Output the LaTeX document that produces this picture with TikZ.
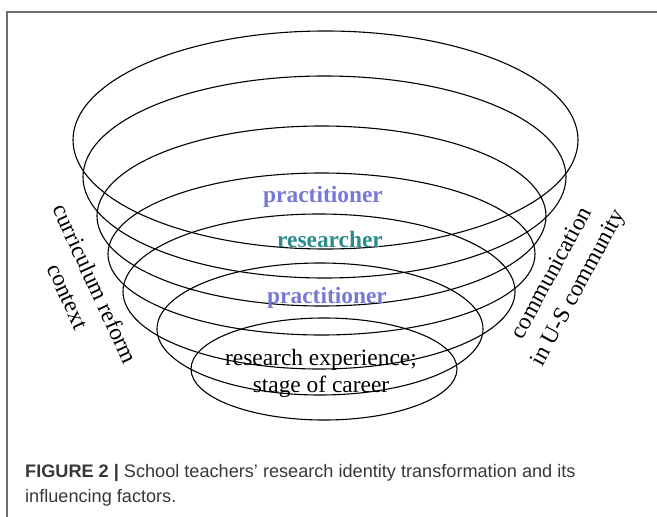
\documentclass[tikz,border=0pt]{standalone}
\usepackage{fontspec}
\setmainfont{Liberation Serif}
\newfontfamily\capfont{Liberation Sans}

\definecolor{practcol}{RGB}{120,120,214}
\definecolor{rescol}{RGB}{45,140,140}
\definecolor{capgray}{RGB}{55,55,55}
\definecolor{framegray}{RGB}{110,110,110}

\begin{document}
\begin{tikzpicture}[x=1bp,y=-1bp,
    ring/.style={draw,line width=1.1bp},
    role/.style={font=\fontsize{23.5}{28}\selectfont\bfseries,inner sep=0pt,anchor=base},
    factor/.style={font=\fontsize{23.5}{30}\selectfont,align=center,inner sep=0pt}]

  \useasboundingbox (0,0) rectangle (657,517);
  \draw[framegray,line width=1.5bp] (7,517) -- (7,12) -- (657,12);

  % the funnel: cx/cy/rx/ry of each ring, top to bottom
  \foreach \cx/\cy/\rx/\ry in {325.5/140/252.5/109, 324.5/177/241.5/101,
      321.5/216/224.5/90, 321.5/254/213.5/81, 319/291.5/196/77.5,
      320/329/163/66, 324/369/133/51}
    \draw[ring] (\cx,\cy) ellipse [x radius=\rx bp, y radius=\ry bp];

  \node[role,text=practcol] (prac1) at (323,203) {practitioner};
  \node[role,text=rescol]   (res)   at (330,248) {researcher};
  \node[role,text=practcol] (prac2) at (327,303) {practitioner};
  \node[factor,font=\fontsize{23.5}{27}\selectfont] (exp) at (321,373)
    {research experience;\\stage of career};

  % outside influences
  \node[factor,rotate=-65.5] (reform) at (82,290) {curriculum reform\\context};
  \node[factor,rotate=61.5]  (comm)   at (566,281) {communication\\in U-S community};

  \node[font=\capfont\fontsize{18.2}{25}\selectfont,text=capgray,align=left,
        inner sep=0pt,anchor=base west] (cap) at (25,502)
    {{\bfseries FIGURE 2 |} School teachers’ research identity transformation and its\\
     influencing factors.};
\end{tikzpicture}
\end{document}
